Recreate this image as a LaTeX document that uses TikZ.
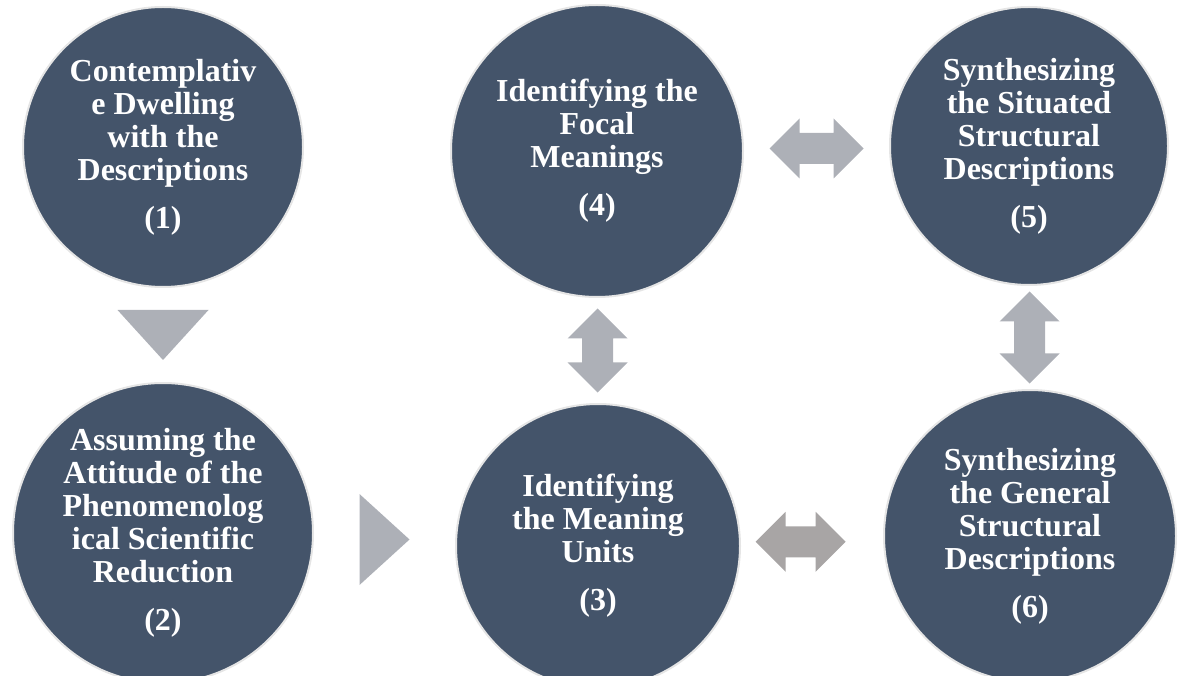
\documentclass[tikz,border=0pt]{standalone}
\usepackage{fontspec}
\setmainfont{Liberation Serif}
\usetikzlibrary{calc}
\definecolor{stagefill}{RGB}{68,84,106}
\definecolor{arrowgrey}{RGB}{173,176,183}
\definecolor{arrowwarm}{RGB}{168,165,165}
% block arrow with two heads: [colour]{centre}{angle}{half length}
\newcommand{\blockarrow}[4][arrowgrey]{%
  \fill[#1,shift={(#2)},rotate=#3] (-#4,0) -- (-#4+30,-30) -- (-#4+30,-15.5) -- (#4-30,-15.5)
    -- (#4-30,-30) -- (#4,0) -- (#4-30,30) -- (#4-30,15.5) -- (-#4+30,15.5) -- (-#4+30,30) -- cycle;}
% plain triangle pointer: {centre}{angle}
\newcommand{\pointer}[2]{%
  \fill[arrowgrey,shift={(#1)},rotate=#2] (-25,-45.5) -- (-25,45.5) -- (25,0) -- cycle;}

\begin{document}
\begin{tikzpicture}[x=1pt,y=-1pt,
    stage/.style={circle,fill=stagefill,draw=black!10,line width=2pt,text=white,
      align=center,inner sep=0pt,font=\fontsize{32}{33}\selectfont\bfseries}]
    \useasboundingbox (0,0) rectangle (1181,676);

    \node (s1) at (163,147) [stage,minimum size=280pt] {Contemplativ\\e Dwelling\\with the\\Descriptions\\[15pt](1)};
    \node (s2) at (163,533) [stage,minimum size=300pt] {Assuming the\\Attitude of the\\Phenomenolog\\ical Scientific\\Reduction\\[15pt](2)};
    \node (s3) at (598,546) [stage,minimum size=284pt] {Identifying\\the Meaning\\Units\\[15pt](3)};
    \node (s4) at (597,151) [stage,minimum size=292pt] {Identifying the\\Focal\\Meanings\\[15pt](4)};
    \node (s5) at (1029,146) [stage,minimum size=278pt] {Synthesizing\\the Situated\\Structural\\Descriptions\\[15pt](5)};
    \node (s6) at (1030,536) [stage,minimum size=292pt] {Synthesizing\\the General\\Structural\\Descriptions\\[15pt](6)};

    \coordinate (d12) at ($(s1.south)!.5!(s2.north)$);
    \coordinate (d23) at ($(s2.east)!.5!(s3.west)$);
    \coordinate (a43) at ($(s4.south)!.5!(s3.north)$);
    \coordinate (a45) at ($(s4.east)!.5!(s5.west)$);
    \coordinate (a56) at ($(s5.south)!.5!(s6.north)$);
    \coordinate (a36) at ($(s3.east)!.42!(s6.west)$);

    \pointer{d12}{-90}
    \pointer{d23}{0}
    \blockarrow{a43}{90}{42}
    \blockarrow{a45}{0}{47}
    \blockarrow{a56}{90}{46}
    \blockarrow[arrowwarm]{a36}{0}{45}
  \end{tikzpicture}
\end{document}
